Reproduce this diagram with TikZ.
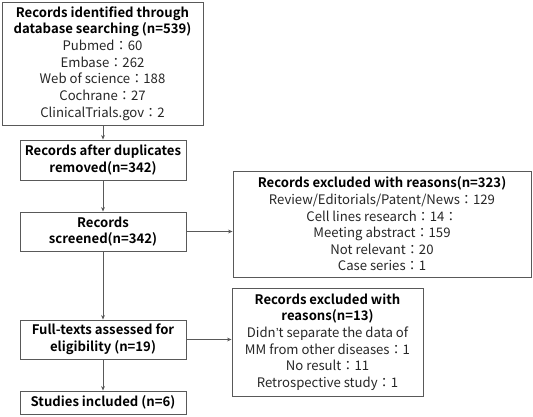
\documentclass[tikz,border=0pt]{standalone}
\usepackage{fontspec}
\setmainfont{Noto Sans CJK SC}[BoldFont={Noto Sans CJK SC Bold}]
\newfontfamily\tcfont{Noto Sans CJK TC}
\newfontfamily\latinfont{Liberation Sans}
\newcommand\fcolon{{\tcfont ：}}
\newcommand\apos{{\latinfont ’}}
\usetikzlibrary{arrows.meta}
\begin{document}
\begin{tikzpicture}[x=1bp,y=-1bp,
  box/.style={draw=black!65,line width=0.9bp,inner sep=0pt,align=center,
    font=\fontsize{13.2}{16.7}\selectfont,text=black!85},
  conn/.style={draw=black!65,line width=0.8bp,-{Stealth[length=4.5bp,width=3.8bp]}}]
\useasboundingbox (0,0) rectangle (533,416);
\node[box,minimum width=201bp,minimum height=123bp] (id) at (102.5,63.5)
  {\textbf{\color{black}Records identified through}\\\textbf{\color{black}database searching (n=539)}\\
   Pubmed\fcolon 60\\Embase\fcolon 262\\Web of science\fcolon 188\\Cochrane\fcolon 27\\ClinicalTrials.gov\fcolon 2};
\node[box,minimum width=166bp,minimum height=40bp] (dup) at (103,160)
  {\textbf{\color{black}Records after duplicates}\\\textbf{\color{black}removed(n=342)}};
\node[box,minimum width=166bp,minimum height=39bp] (scr) at (103,231.5)
  {\textbf{\color{black}Records}\\\textbf{\color{black}screened(n=342)}};
\node[box,minimum width=298bp,minimum height=106bp] (ex1) at (382,224)
  {\textbf{\color{black}Records excluded with reasons(n=323)}\\Review/Editorials/Patent/News\fcolon 129\\
   Cell lines research\fcolon 14\fcolon\\Meeting abstract\fcolon 159\\Not relevant\fcolon 20\\Case series\fcolon 1};
\node[box,minimum width=166bp,minimum height=39bp] (full) at (103,339.5)
  {\textbf{\color{black}Full-texts assessed for}\\\textbf{\color{black}eligibility (n=19)}};
\node[box,minimum width=166bp,minimum height=23bp] (inc) at (103,402.5)
  {\textbf{\color{black}Studies included (n=6)}};
\node[box,minimum width=191bp,minimum height=108bp] (ex2) at (327.5,342)
  {\textbf{\color{black}Records excluded with}\\\textbf{\color{black}reasons(n=13)}\\Didn\apos t separate the data of\\
   MM from other diseases\fcolon 1\\No result\fcolon 11\\Retrospective study\fcolon 1};
\draw[conn] (id.south -| dup.north) -- (dup.north);
\draw[conn] (dup) -- (scr);
\draw[conn] (scr) -- (full);
\draw[conn] (full) -- (inc);
\draw[conn] (scr.east) -- (scr.east -| ex1.west);
\draw[conn] (full.east) -- (full.east -| ex2.west);
\end{tikzpicture}
\end{document}
